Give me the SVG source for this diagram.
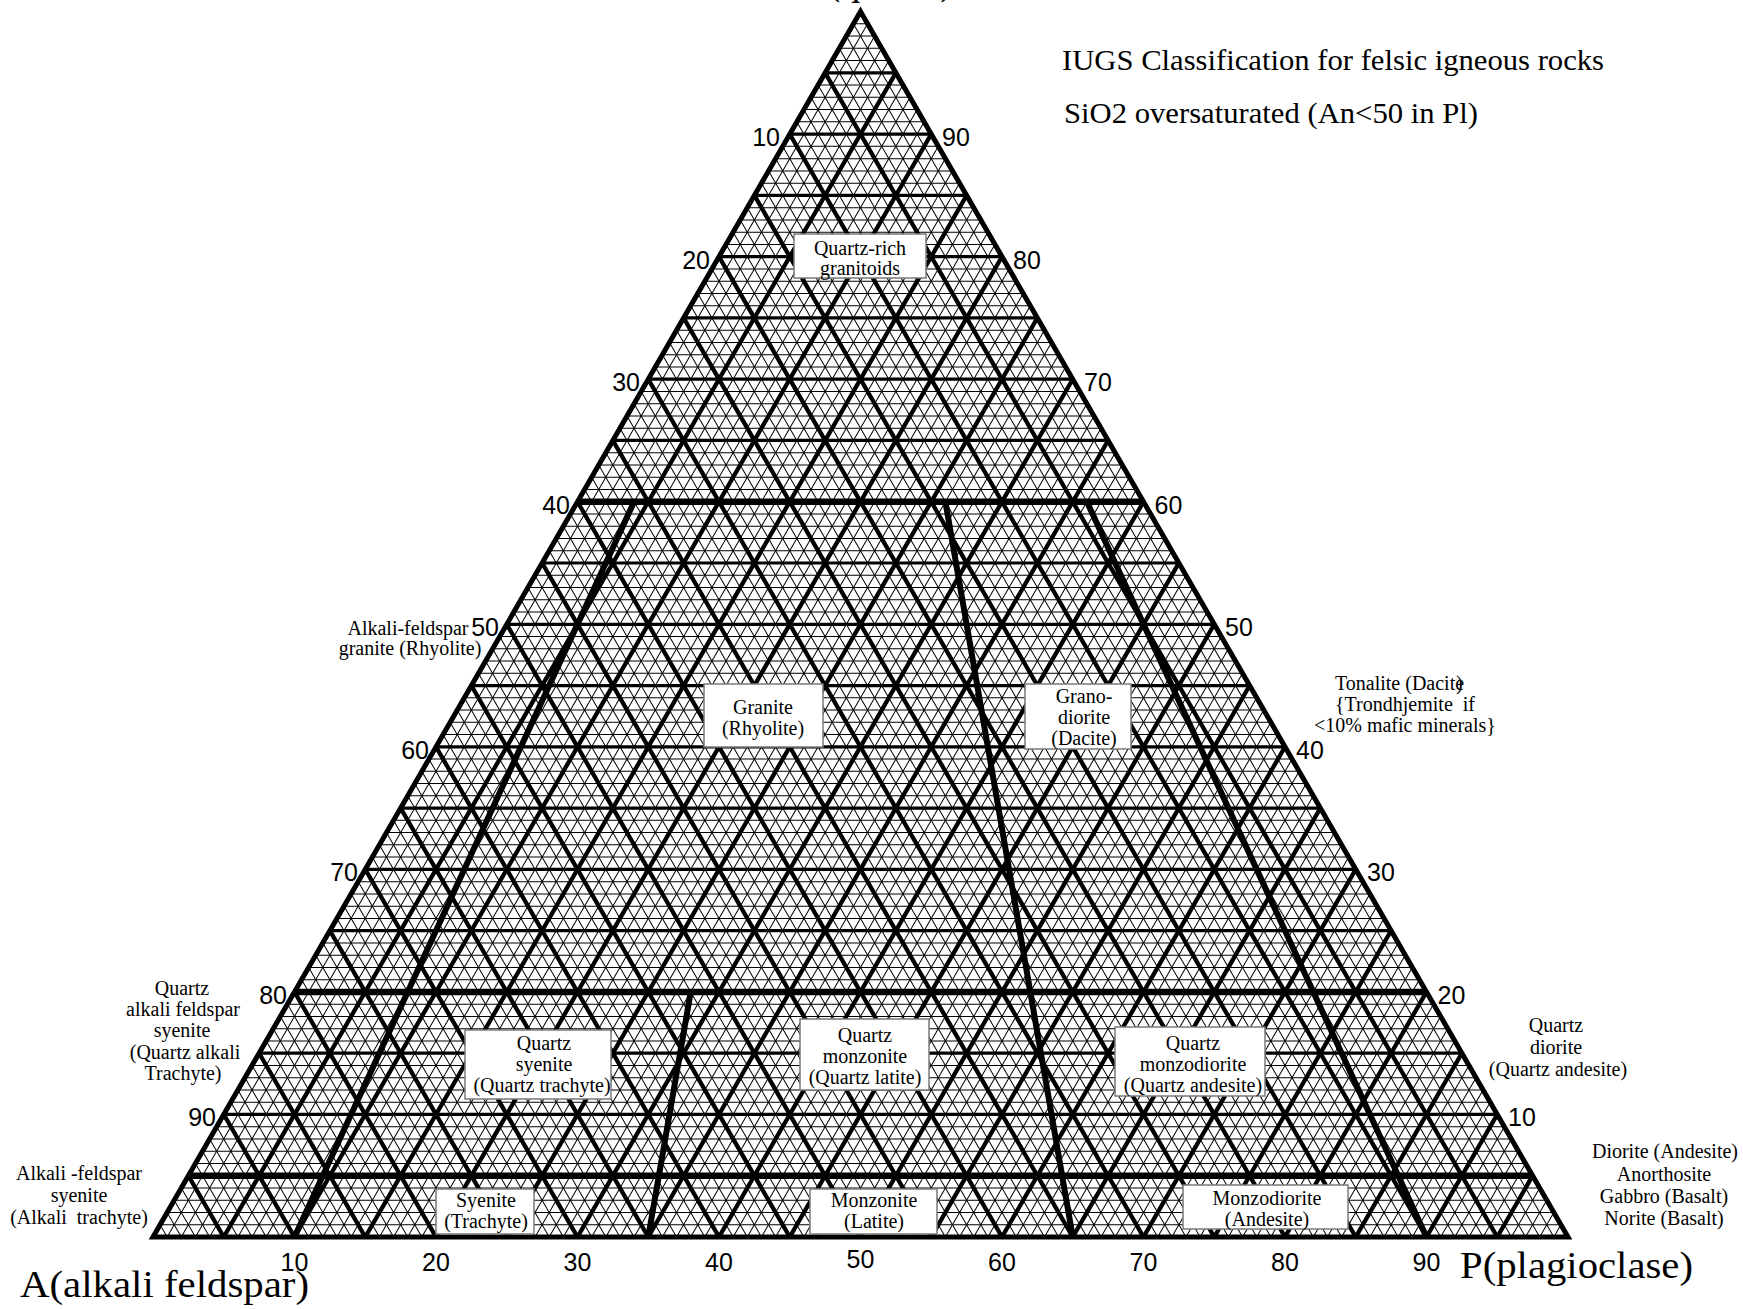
<svg xmlns="http://www.w3.org/2000/svg" width="1743" height="1309" viewBox="0 0 1743 1309">
<style>
.fine{fill:none;stroke:#000;stroke-width:5000;stroke-dasharray:1 11.25426}
.medh{fill:none;stroke:#000;stroke-width:5000;stroke-dasharray:3.2 58.0713}
.medd{fill:none;stroke:#000;stroke-width:5000;stroke-dasharray:4.3 56.9713}
.serif{font-family:"Liberation Serif","Times New Roman",serif;fill:#000}
.lab{font-family:"Liberation Serif","Times New Roman",serif;font-size:20px;text-anchor:middle;fill:#000}
.num{font-family:"Liberation Sans",Arial,sans-serif;font-size:25px;fill:#000}
.numL{text-anchor:end}
.numB{text-anchor:middle}
.box{fill:#fff;stroke:#7a7a7a;stroke-width:1.5}
</style>
<defs>
<clipPath id="tri"><polygon points="153,1237 1568,1237 860.5,11.574"/></clipPath>
<path id="fineH" class="fine" d="M153 3688.352V-1213.352"/>
<path id="medH" class="medh" d="M153 3689.452V-1212.252"/>
<path id="medD" class="medd" d="M153 3690.002V-1211.702"/>
</defs>
<rect width="1743" height="1309" fill="#fff"/>
<g id="grid" clip-path="url(#tri)">
<use href="#fineH"/>
<use href="#fineH" transform="rotate(60 153 1237)"/>
<use href="#fineH" transform="rotate(-60 153 1237)"/>
<use href="#medH"/>
<use href="#medD" transform="rotate(60 153 1237)"/>
<use href="#medD" transform="rotate(-60 153 1237)"/>
</g>
<g id="connectors" fill="none" stroke="#000" stroke-width="6.5">
<path d="M577.5 501.74H1143.5M294.5 991.91H1426.5M188.38 1175.73H1532.63"/>
<path stroke-width="6" d="M634.1 501.74L294.5 1237M690.7 991.91L648.25 1237M945.4 501.74L1072.75 1237M1086.9 501.74L1426.5 1237"/>
</g>
<polygon id="frame" points="153,1237 1568,1237 860.5,11.574" fill="none" stroke="#000" stroke-width="5"/>
<g id="axis-left" class="num numL">
<text x="780" y="146">10</text>
<text x="710" y="268.5">20</text>
<text x="640" y="391">30</text>
<text x="570" y="513.5">40</text>
<text x="499" y="636">50</text>
<text x="429" y="758.5">60</text>
<text x="358" y="881">70</text>
<text x="287" y="1003.5">80</text>
<text x="216" y="1126">90</text>
</g>
<g id="axis-right" class="num">
<text x="942" y="146">90</text>
<text x="1013" y="268.5">80</text>
<text x="1084" y="391">70</text>
<text x="1154.5" y="513.5">60</text>
<text x="1225" y="636">50</text>
<text x="1296" y="758.5">40</text>
<text x="1367" y="881">30</text>
<text x="1437.5" y="1003.5">20</text>
<text x="1508" y="1126">10</text>
</g>
<g id="axis-bottom" class="num numB">
<text x="294.5" y="1271">10</text>
<text x="436" y="1271">20</text>
<text x="577.5" y="1271">30</text>
<text x="719" y="1271">40</text>
<text x="860.5" y="1268">50</text>
<text x="1002" y="1271">60</text>
<text x="1143.5" y="1271">70</text>
<text x="1285" y="1271">80</text>
<text x="1426.5" y="1271">90</text>
</g>
<g id="title" class="serif">
<text x="1062" y="70" font-size="30" textLength="542" lengthAdjust="spacingAndGlyphs">IUGS Classification for felsic igneous rocks</text>
<text x="1064" y="123" font-size="30" textLength="414" lengthAdjust="spacingAndGlyphs">SiO2 oversaturated (An&lt;50 in Pl)</text>
</g>
<g id="apex-labels" class="serif">
<text x="798" y="-6" font-size="40">Q(quartz)</text>
<text x="20" y="1297" font-size="38" textLength="289" lengthAdjust="spacingAndGlyphs">A(alkali feldspar)</text>
<text x="1460" y="1278" font-size="38" textLength="233" lengthAdjust="spacingAndGlyphs">P(plagioclase)</text>
</g>
<g id="n-quartz-rich"><rect class="box" x="794" y="234" width="132" height="44"/><text class="lab" x="860" y="255">Quartz-rich</text><text class="lab" x="860" y="274.5">granitoids</text></g>
<g id="n-granite"><rect class="box" x="704" y="684" width="119" height="63"/><text class="lab" x="763" y="714">Granite</text><text class="lab" x="763" y="735">(Rhyolite)</text></g>
<g id="n-granodiorite"><rect class="box" x="1025" y="684" width="106" height="65"/><text class="lab" x="1084" y="703">Grano-</text><text class="lab" x="1084" y="724">diorite</text><text class="lab" x="1084" y="745">(Dacite)</text></g>
<g id="n-quartz-syenite"><rect class="box" x="465" y="1030" width="146" height="69"/><text class="lab" x="544" y="1050">Quartz</text><text class="lab" x="544" y="1071">syenite</text><text class="lab" x="542" y="1092">(Quartz trachyte)</text></g>
<g id="n-quartz-monzonite"><rect class="box" x="800" y="1019" width="129" height="71"/><text class="lab" x="865" y="1042">Quartz</text><text class="lab" x="865" y="1063">monzonite</text><text class="lab" x="865" y="1084">(Quartz latite)</text></g>
<g id="n-quartz-monzodiorite"><rect class="box" x="1115" y="1027" width="150" height="69"/><text class="lab" x="1193" y="1050">Quartz</text><text class="lab" x="1193" y="1071">monzodiorite</text><text class="lab" x="1193" y="1092">(Quartz andesite)</text></g>
<g id="n-syenite"><rect class="box" x="436" y="1189" width="98" height="45"/><text class="lab" x="486" y="1207">Syenite</text><text class="lab" x="486" y="1228">(Trachyte)</text></g>
<g id="n-monzonite"><rect class="box" x="810" y="1189" width="127" height="45"/><text class="lab" x="874" y="1207">Monzonite</text><text class="lab" x="874" y="1228">(Latite)</text></g>
<g id="n-monzodiorite"><rect class="box" x="1183" y="1185" width="165" height="44"/><text class="lab" x="1267" y="1205">Monzodiorite</text><text class="lab" x="1267" y="1226">(Andesite)</text></g>
<g id="n-alkali-granite"><text class="lab" x="408" y="635">Alkali-feldspar</text><text class="lab" x="410" y="655">granite (Rhyolite)</text></g>
<g id="n-tonalite" class="serif" font-size="20"><text x="1335" y="690">Tonalite (Dacit<tspan>e</tspan><tspan dx="-8">)</tspan></text><text x="1335" y="711">{Trondhjemite&#160; if</text><text x="1314" y="732">&lt;10% mafic minerals}</text></g>
<g id="n-qafs"><text class="lab" x="182" y="995">Quartz</text><text class="lab" x="183" y="1016">alkali feldspar</text><text class="lab" x="182" y="1037">syenite</text><text class="lab" x="185" y="1059">(Quartz alkali</text><text class="lab" x="183" y="1080">Trachyte)</text></g>
<g id="n-quartz-diorite"><text class="lab" x="1556" y="1032">Quartz</text><text class="lab" x="1556" y="1054">diorite</text><text class="lab" x="1558" y="1076">(Quartz andesite)</text></g>
<g id="n-afs"><text class="lab" x="79" y="1180">Alkali -feldspar</text><text class="lab" x="79" y="1202">syenite</text><text class="lab" x="79" y="1224">(Alkali&#160; trachyte)</text></g>
<g id="n-diorite"><text class="lab" x="1665" y="1158">Diorite (Andesite)</text><text class="lab" x="1664" y="1180.5">Anorthosite</text><text class="lab" x="1664" y="1203">Gabbro (Basalt)</text><text class="lab" x="1664" y="1225">Norite (Basalt)</text></g>
</svg>
